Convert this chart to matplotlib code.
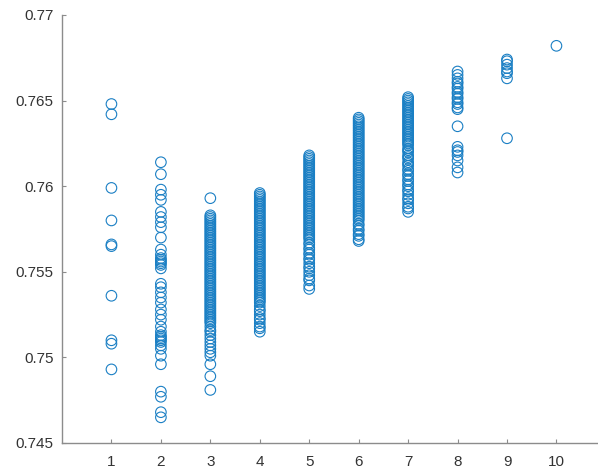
import matplotlib
matplotlib.use("Agg")
import matplotlib.pyplot as plt

plt.rcParams['font.family'] = ['Liberation Sans', 'DejaVu Sans']

g1 = [0.7648, 0.7642, 0.7599, 0.7580, 0.7566, 0.7565, 0.7536, 0.7510, 0.7508, 0.7493]
g2 = [0.7614, 0.7607, 0.7598, 0.7595, 0.7592, 0.7585, 0.7582, 0.7579, 0.7576, 0.7570,
      0.7563, 0.7560, 0.7558, 0.7557, 0.7556, 0.7555, 0.7554, 0.7552, 0.7543, 0.7541,
      0.7538, 0.7535, 0.7532, 0.7528, 0.7525, 0.7522, 0.7518, 0.7515, 0.7513, 0.7512,
      0.7511, 0.7510, 0.7509, 0.7507, 0.7505, 0.7501, 0.7496, 0.7480, 0.7477, 0.7468,
      0.7465]
g3 = [0.7593, 0.7583, 0.7582, 0.7581, 0.7580, 0.7579, 0.7578, 0.7577, 0.7576, 0.7575,
      0.7574, 0.7573, 0.7572, 0.7571, 0.7570, 0.7569, 0.7568, 0.7567, 0.7566, 0.7565,
      0.7564, 0.7563, 0.7562, 0.7561, 0.7560, 0.7559, 0.7558, 0.7557, 0.7556, 0.7555,
      0.7554, 0.7553, 0.7552, 0.7551, 0.7550, 0.7549, 0.7548, 0.7547, 0.7546, 0.7545,
      0.7544, 0.7543, 0.7542, 0.7541, 0.7540, 0.7539, 0.7538, 0.7537, 0.7536, 0.7535,
      0.7534, 0.7533, 0.7532, 0.7531, 0.7530, 0.7529, 0.7528, 0.7527, 0.7526, 0.7525,
      0.7524, 0.7523, 0.7522, 0.7521, 0.7520, 0.7518, 0.7516, 0.7515, 0.7513, 0.7511,
      0.7509, 0.7507, 0.7505, 0.7503, 0.7501, 0.7496, 0.7489, 0.7481]
g4 = [0.7596, 0.7595, 0.7594, 0.7593, 0.7592, 0.7591, 0.7590, 0.7589, 0.7588, 0.7587,
      0.7586, 0.7585, 0.7584, 0.7583, 0.7582, 0.7581, 0.7580, 0.7579, 0.7578, 0.7577,
      0.7576, 0.7575, 0.7574, 0.7573, 0.7572, 0.7571, 0.7570, 0.7569, 0.7568, 0.7567,
      0.7566, 0.7565, 0.7564, 0.7563, 0.7562, 0.7561, 0.7560, 0.7559, 0.7558, 0.7557,
      0.7556, 0.7555, 0.7554, 0.7553, 0.7552, 0.7551, 0.7550, 0.7549, 0.7548, 0.7547,
      0.7546, 0.7545, 0.7544, 0.7543, 0.7542, 0.7541, 0.7540, 0.7539, 0.7538, 0.7537,
      0.7536, 0.7535, 0.7534, 0.7533, 0.7532, 0.7530, 0.7528, 0.7527, 0.7525, 0.7523,
      0.7522, 0.7520, 0.7518, 0.7517, 0.7515]
g5 = [0.7618, 0.7617, 0.7616, 0.7615, 0.7614, 0.7613, 0.7612, 0.7611, 0.7610, 0.7609,
      0.7608, 0.7607, 0.7606, 0.7605, 0.7604, 0.7603, 0.7602, 0.7601, 0.7600, 0.7599,
      0.7598, 0.7597, 0.7596, 0.7595, 0.7594, 0.7593, 0.7592, 0.7591, 0.7590, 0.7589,
      0.7588, 0.7587, 0.7586, 0.7585, 0.7584, 0.7583, 0.7582, 0.7581, 0.7580, 0.7579,
      0.7578, 0.7577, 0.7576, 0.7575, 0.7574, 0.7573, 0.7572, 0.7571, 0.7570, 0.7569,
      0.7567, 0.7566, 0.7564, 0.7563, 0.7561, 0.7560, 0.7558, 0.7557, 0.7555, 0.7553,
      0.7552, 0.7550, 0.7548, 0.7546, 0.7545, 0.7542, 0.7540]
g6 = [0.7640, 0.7639, 0.7638, 0.7637, 0.7636, 0.7635, 0.7634, 0.7633, 0.7632, 0.7631,
      0.7630, 0.7629, 0.7628, 0.7627, 0.7626, 0.7625, 0.7624, 0.7623, 0.7622, 0.7621,
      0.7620, 0.7619, 0.7618, 0.7617, 0.7616, 0.7615, 0.7614, 0.7613, 0.7612, 0.7611,
      0.7610, 0.7609, 0.7608, 0.7607, 0.7606, 0.7605, 0.7604, 0.7603, 0.7602, 0.7601,
      0.7600, 0.7599, 0.7598, 0.7597, 0.7596, 0.7595, 0.7594, 0.7593, 0.7592, 0.7591,
      0.7590, 0.7589, 0.7588, 0.7587, 0.7586, 0.7585, 0.7584, 0.7583, 0.7582, 0.7581,
      0.7580, 0.7578, 0.7577, 0.7575, 0.7574, 0.7572, 0.7571, 0.7569, 0.7568]
g7 = [0.7652, 0.7651, 0.7650, 0.7649, 0.7648, 0.7647, 0.7646, 0.7645, 0.7644, 0.7643,
      0.7642, 0.7641, 0.7640, 0.7639, 0.7638, 0.7637, 0.7636, 0.7635, 0.7634, 0.7633,
      0.7632, 0.7631, 0.7630, 0.7629, 0.7628, 0.7627, 0.7626, 0.7625, 0.7624, 0.7622,
      0.7621, 0.7620, 0.7618, 0.7617, 0.7616, 0.7614, 0.7613, 0.7612, 0.7610, 0.7609,
      0.7607, 0.7606, 0.7604, 0.7603, 0.7601, 0.7600, 0.7598, 0.7597, 0.7595, 0.7593,
      0.7592, 0.7590, 0.7588, 0.7587, 0.7585]
g8 = [0.7667, 0.7665, 0.7663, 0.7661, 0.7660, 0.7658, 0.7657, 0.7655, 0.7654, 0.7652,
      0.7651, 0.7649, 0.7648, 0.7646, 0.7645, 0.7635, 0.7623, 0.7621, 0.7620, 0.7618,
      0.7615, 0.7611, 0.7608]
g9 = [0.7674, 0.7673, 0.7671, 0.7669, 0.7667, 0.7666, 0.7663, 0.7628]
g10 = [0.7682]

groups = [g1, g2, g3, g4, g5, g6, g7, g8, g9, g10]
x_ticks = [1, 2, 3, 4, 5, 6, 7, 8, 9, 10]
y_ticks = [0.745, 0.75, 0.755, 0.76, 0.765, 0.77]
y_labels = ['0.745', '0.75', '0.755', '0.76', '0.765', '0.77']

fig = plt.figure(figsize=(5.98, 4.74), dpi=100)
ax = fig.add_axes([62 / 598, 31 / 474, 543.9 / 598, 428 / 474])

for xv, ys in zip(x_ticks, groups):
    ax.scatter([xv] * len(ys), ys, s=58, facecolors='none',
               edgecolors='#1a7fc4', linewidths=0.8)

ax.set_xlim(0, 11)
ax.set_ylim(0.745, 0.77)
ax.set_xticks(x_ticks)
ax.set_xticklabels([str(v) for v in x_ticks])
ax.set_yticks(y_ticks)
ax.set_yticklabels(y_labels)

for s in ['top', 'right']:
    ax.spines[s].set_visible(False)
for s in ['left', 'bottom']:
    ax.spines[s].set_color('#8c8c8c')
    ax.spines[s].set_linewidth(1.0)

ax.tick_params(axis='both', direction='in', length=3, width=0.8,
               color='#8c8c8c', labelcolor='#333333', labelsize=11)
ax.tick_params(axis='x', pad=9)
ax.tick_params(axis='y', pad=6)

fig.savefig('out.png', dpi=100)
